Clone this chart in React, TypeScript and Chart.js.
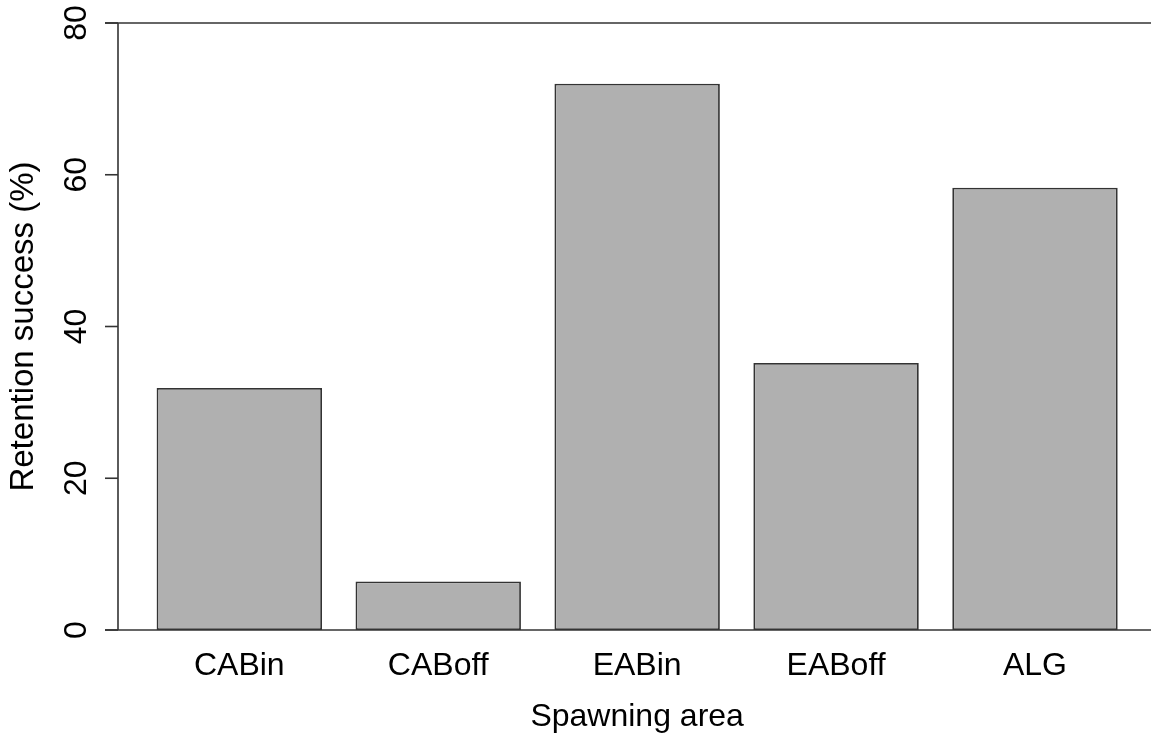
import React, { useEffect, useRef } from "react";
import { Chart, registerables } from "chart.js";

Chart.register(...registerables);

const categories = ["CABin", "CABoff", "EABin", "EABoff", "ALG"];
const retention = [31.9, 6.4, 72.0, 35.2, 58.3];
const yTicks = [0, 20, 40, 60, 80];

const FONT = '"Liberation Sans", Arial, Helvetica, sans-serif';
const LINE = "#333333";

const axisPlugin = {
  id: "rAxis",
  beforeDatasetsDraw(chart: any) {
    const { ctx, scales } = chart;
    const y = scales.y;
    const axisX = 118;
    const tickLeft = 105;
    const W = chart.width;
    ctx.save();
    ctx.strokeStyle = LINE;
    ctx.lineWidth = 1.6;
    ctx.beginPath();
    ctx.moveTo(axisX, y.getPixelForValue(yTicks[0]));
    ctx.lineTo(axisX, y.getPixelForValue(yTicks[yTicks.length - 1]));
    ctx.stroke();
    yTicks.forEach((v) => {
      const py = y.getPixelForValue(v);
      ctx.beginPath();
      ctx.moveTo(tickLeft, py);
      ctx.lineTo(axisX, py);
      ctx.stroke();
    });
    [yTicks[0], yTicks[yTicks.length - 1]].forEach((v) => {
      const py = y.getPixelForValue(v);
      ctx.beginPath();
      ctx.moveTo(tickLeft, py);
      ctx.lineTo(W, py);
      ctx.stroke();
    });
    ctx.fillStyle = "#000";
    ctx.font = `32px ${FONT}`;
    ctx.textAlign = "center";
    ctx.textBaseline = "middle";
    yTicks.forEach((v) => {
      const py = y.getPixelForValue(v);
      ctx.save();
      ctx.translate(77, py);
      ctx.rotate(-Math.PI / 2);
      ctx.fillText(String(v), 0, 0);
      ctx.restore();
    });
    ctx.restore();
  },
};

export default function App() {
  const ref = useRef<HTMLCanvasElement | null>(null);

  useEffect(() => {
    document.body.style.margin = "0";
    document.body.style.overflow = "hidden";
    const canvas = ref.current;
    if (!canvas) return;
    const chart = new Chart(canvas, {
      type: "bar",
      data: {
        labels: categories,
        datasets: [
          {
            data: retention,
            backgroundColor: "#b0b0b0",
            borderColor: LINE,
            borderWidth: 1.8,
            borderSkipped: false,
            barPercentage: 0.8316,
            categoryPercentage: 1,
          },
        ],
      },
      options: {
        responsive: false,
        animation: false,
        devicePixelRatio: 1,
        layout: { padding: { left: 0, right: 16.55, top: 23, bottom: 0 } },
        plugins: {
          legend: { display: false },
          tooltip: { enabled: false },
        },
        scales: {
          x: {
            offset: true,
            grid: { display: false, drawTicks: false },
            border: { display: false },
            ticks: {
              color: "#000",
              padding: 16.8,
              font: { family: FONT, size: 32 },
              maxRotation: 0,
            },
            title: {
              display: true,
              text: "Spawning area",
              color: "#000",
              font: { family: FONT, size: 32 },
              padding: { top: 0, bottom: 0 },
            },
            afterFit: (scale: any) => {
              scale.height = 106;
            },
          },
          y: {
            min: 0,
            max: 80,
            grid: { display: false, drawTicks: false },
            border: { display: false },
            ticks: { display: false, stepSize: 20 },
            title: {
              display: true,
              text: "Retention success (%)",
              color: "#000",
              font: { family: FONT, size: 33 },
              padding: { top: 4.2, bottom: 0 },
            },
            afterFit: (scale: any) => {
              scale.width = 139.85;
            },
          },
        },
      },
      plugins: [axisPlugin],
    });
    return () => chart.destroy();
  }, []);

  return (
    <div style={{ width: 1151, height: 736, background: "#fff" }}>
      <canvas ref={ref} width={1151} height={736} style={{ display: "block" }} />
    </div>
  );
}
